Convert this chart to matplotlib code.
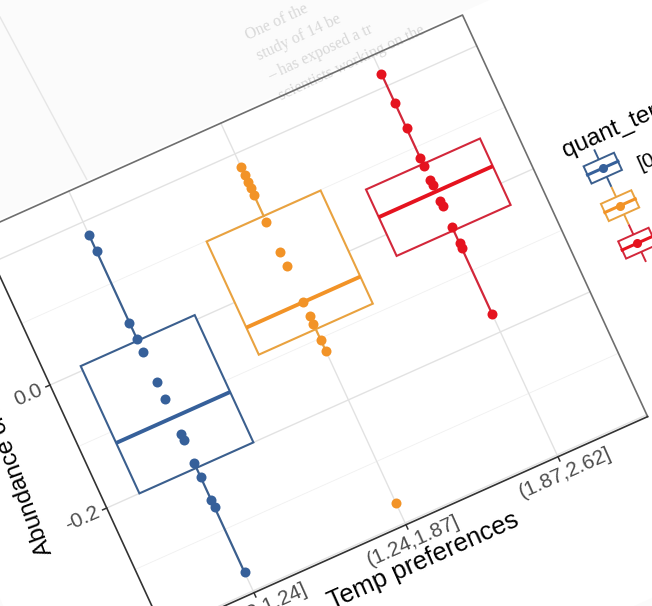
import numpy as np
import matplotlib.pyplot as plt
from matplotlib.transforms import Affine2D
from matplotlib.patches import Polygon

# temperature-preference bins
categories = ["[0.52,1.24]", "(1.24,1.87]", "(1.87,2.62]"]
positions = [1, 2, 3]

# abundance values per bin
blue_pts = [0.178, 0.152, 0.036, 0.009, -0.012, -0.060, -0.088, -0.145,
            -0.155, -0.192, -0.215, -0.252, -0.264, -0.370]
orange_pts = [0.178, 0.165, 0.155, 0.144, 0.133, 0.090, 0.040, 0.018,
              -0.040, -0.064, -0.076, -0.102, -0.121, -0.367]
red_pts = [0.220, 0.173, 0.131, 0.082, 0.069, 0.047, 0.039, 0.013,
           0.004, -0.029, -0.056, -0.063, -0.171]

# box statistics per bin
q1 = [-0.200, -0.085, -0.035]
medians = [-0.118, -0.041, 0.028]
q3 = [0.007, 0.099, 0.073]
whisker_lo = [-0.370, -0.121, -0.171]
whisker_hi = [0.178, 0.178, 0.220]

y_ticks = [-0.4, -0.2, 0.0, 0.2]
y_tick_labels = ["-0.4", "-0.2", "0.0", "0.2"]
y_minor = [-0.3, -0.1, 0.1]

point_colors = ["#36609a", "#f29327", "#e5131f"]
box_colors = ["#3b5f8e", "#e9a23f", "#d3273a"]

xmin, xmax = 0.41, 3.59
ymin, ymax = -0.403, 0.25

fig = plt.figure(figsize=(6.52, 6.06), dpi=100)
fig.patch.set_facecolor("#fbfbfb")
ax = fig.add_axes([0, 0, 1, 1])
ax.set_xlim(0, 652)
ax.set_ylim(606, 0)
ax.set_autoscale_on(False)
ax.axis("off")

# tilted frame: (category, value) -> pixel position
tilt = Affine2D(np.array([[152.0, -283.5, -12.3],
                          [-68.0, -615.0, 412.9],
                          [0.0, 0.0, 1.0]]))
T = tilt + ax.transData
x_rot = np.degrees(np.arctan2(68.0, 152.0))
y_rot = 110.0

font = "Liberation Sans"

# faint page text behind the chart
paper = ["One of the", "study of 14 be", "\u2013 has exposed a tr", "scientists working on the"]
for i, line in enumerate(paper):
    ax.text(248 + 11 * i, 40 + 20 * i, line, rotation=25, rotation_mode="anchor",
            ha="left", va="baseline", fontsize=11.5, color="#d8d8d8",
            family="Liberation Serif", zorder=0.6 if i == 3 else 0)
ax.plot([0, 102], [17, 208], color="#e6e6e6", lw=1.0, zorder=0)

# chart background and panel
bg = Polygon([(-0.4, -0.65), (4.9, -0.65), (4.9, ymax + 0.004), (-0.4, ymax + 0.004)],
             closed=True, facecolor="white", edgecolor="none", transform=T, zorder=0.5)
ax.add_patch(bg)

for yv in y_minor:
    ax.plot([xmin, xmax], [yv, yv], color="#f0f0f0", lw=0.6, transform=T, zorder=1)
for yv in y_ticks:
    ax.plot([xmin, xmax], [yv, yv], color="#e2e2e2", lw=1.0, transform=T, zorder=1)
for xv in positions:
    ax.plot([xv, xv], [ymin, ymax], color="#e2e2e2", lw=1.0, transform=T, zorder=1)

# boxes
stats = []
for i in range(3):
    stats.append(dict(med=medians[i], q1=q1[i], q3=q3[i],
                      whislo=whisker_lo[i], whishi=whisker_hi[i]))
bp = ax.bxp(stats, positions=positions, widths=0.75, showfliers=False,
            showcaps=False, patch_artist=True, manage_ticks=False)
for i in range(3):
    box = bp["boxes"][i]
    box.set_transform(T)
    box.set_facecolor("white")
    box.set_edgecolor(box_colors[i])
    box.set_linewidth(1.5)
    box.set_zorder(2)
    med = bp["medians"][i]
    med.set_transform(T)
    med.set_color(point_colors[i])
    med.set_linewidth(2.8)
    med.set_zorder(3)
    for w in bp["whiskers"][2 * i:2 * i + 2]:
        w.set_transform(T)
        w.set_color(box_colors[i])
        w.set_linewidth(1.6)
        w.set_zorder(2)

# points
for pos, vals, col in zip(positions, [blue_pts, orange_pts, red_pts], point_colors):
    ax.plot(np.full(len(vals), pos), vals, "o", ms=7.2, color=col,
            markeredgewidth=0, transform=T, zorder=4)

# panel border
ax.plot([xmin, xmax, xmax], [ymax, ymax, ymin], color="#6e6e6e", lw=1.2,
        transform=T, zorder=5)
ax.plot([xmin, xmin, xmax], [ymax, ymin, ymin], color="#333333", lw=1.2,
        transform=T, zorder=5)

# ticks and tick labels
for yv, lab in zip(y_ticks, y_tick_labels):
    ax.plot([xmin - 0.027, xmin], [yv, yv], color="#333333", lw=1.1, transform=T, zorder=5)
    ax.text(xmin - 0.055, yv, lab, transform=T, rotation=x_rot, rotation_mode="anchor",
            ha="right", va="center", fontsize=15, color="#4d4d4d", family=font)
for xv, lab in zip(positions, categories):
    ax.plot([xv, xv], [ymin - 0.0068, ymin], color="#333333", lw=1.1, transform=T, zorder=5)
    ax.text(xv, ymin - 0.026, lab, transform=T, rotation=x_rot, rotation_mode="anchor",
            ha="center", va="center", fontsize=15, color="#4d4d4d", family=font)

# axis titles
ax.text(2.0, -0.473, "Temp preferences", transform=T, rotation=x_rot,
        rotation_mode="anchor", ha="center", va="baseline", fontsize=18.5,
        color="black", family=font)
ax.text(0.0, -0.228, "Abundance change", transform=T, rotation=y_rot,
        rotation_mode="anchor", ha="left", va="baseline", fontsize=17.5,
        color="black", family=font)

# legend
ax.text(3.80, -0.004, "quant_temp", transform=T, rotation=x_rot,
        rotation_mode="anchor", ha="left", va="baseline", fontsize=17.5,
        color="black", family=font)
key_x = 3.97
for i in range(3):
    ky = -0.041 - 0.061 * i
    ax.plot([key_x, key_x], [ky - 0.029, ky + 0.029], color=box_colors[i],
            lw=1.4, transform=T, zorder=6)
    key = Polygon([(key_x - 0.1, ky - 0.014), (key_x + 0.1, ky - 0.014),
                   (key_x + 0.1, ky + 0.014), (key_x - 0.1, ky + 0.014)],
                  closed=True, facecolor="white", edgecolor=box_colors[i],
                  lw=1.4, transform=T, zorder=6)
    ax.add_patch(key)
    ax.plot([key_x - 0.1, key_x + 0.1], [ky, ky], color=point_colors[i], lw=2.2,
            transform=T, zorder=7)
    ax.plot([key_x], [ky], "o", ms=6.5, color=point_colors[i], markeredgewidth=0,
            transform=T, zorder=8)
    ax.text(key_x + 0.2, ky - 0.018, categories[i], transform=T, rotation=x_rot,
            rotation_mode="anchor", ha="left", va="center", fontsize=15,
            color="black", family=font)

fig.savefig("out.png", dpi=100, facecolor=fig.get_facecolor())
